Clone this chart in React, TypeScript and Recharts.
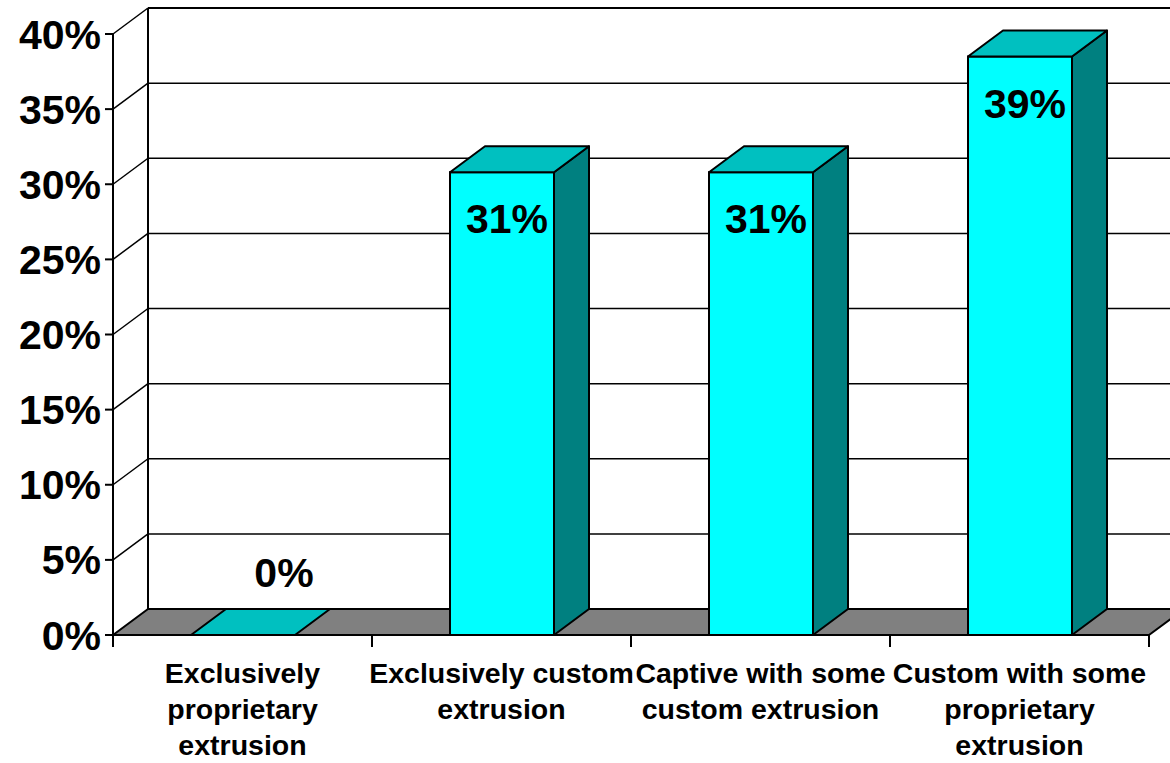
import { BarChart, Bar, XAxis, YAxis, CartesianGrid, LabelList } from 'recharts';

// values (Excel shows them rounded)
const categories = ['Exclusively proprietary extrusion', 'Exclusively custom extrusion', 'Captive with some custom extrusion', 'Custom with some proprietary extrusion'];
const categoryLines = [
    ['Exclusively', 'proprietary', 'extrusion'],
    ['Exclusively custom', 'extrusion'],
    ['Captive with some', 'custom extrusion'],
    ['Custom with some', 'proprietary', 'extrusion'],
];
const shares = [0, 0.308, 0.308, 0.385];
const yTicks = [0, 0.05, 0.1, 0.15, 0.2, 0.25, 0.3, 0.35, 0.4];

const data = categories.map((name, i) => ({ name, share: shares[i], lines: categoryLines[i] }));

const W = 1200;
const H = 763;
const AXIS_W = 113;
const TOP = 34;
const RIGHT = 51;
const X_AXIS_H = 128;
const PLOT_LEFT = AXIS_W;
const PLOT_RIGHT = W - RIGHT;
const PLOT_BOTTOM = H - X_AXIS_H;
const CAT_W = (PLOT_RIGHT - PLOT_LEFT) / categories.length;
const DX = 35; // depth offset
const DY = 26;
const FONT = '"Liberation Sans", Arial, Helvetica, sans-serif';

const pct = (v: number) => `${Math.round(v * 100)}%`;

function GridLine(p: any) {
    const { x1, y1, x2 } = p;
    const isFloor = Math.abs(y1 - PLOT_BOTTOM) < 1;
    if (isFloor) {
        const pts = `${x1},${y1} ${x2},${y1} ${x2 + DX},${y1 - DY} ${x1 + DX},${y1 - DY}`;
        return (
            <g key={p.key}>
                <polygon points={pts} fill="#808080" stroke="#000" strokeWidth={2} strokeLinejoin="round" />
            </g>
        );
    }
    const isTop = Math.abs(y1 - TOP) < 1;
    return (
        <g key={p.key}>
            <line x1={x1} y1={y1} x2={x1 + DX} y2={y1 - DY} stroke="#000" strokeWidth={1.5} />
            <line x1={x1 + DX} y1={y1 - DY} x2={x2 + DX} y2={y1 - DY} stroke="#000" strokeWidth={isTop ? 2 : 1.5} />
            {isTop && <line x1={x1 + DX} y1={y1 - DY} x2={x1 + DX} y2={PLOT_BOTTOM - DY} stroke="#000" strokeWidth={2} />}
        </g>
    );
}

function Box3D(props: any) {
    const { x, y, width, height } = props;
    const top = `${x},${y} ${x + DX},${y - DY} ${x + width + DX},${y - DY} ${x + width},${y}`;
    const side = `${x + width},${y} ${x + width + DX},${y - DY} ${x + width + DX},${y + height - DY} ${x + width},${y + height}`;
    return (
        <g>
            {height > 0 && <polygon points={side} fill="#008080" stroke="#000" strokeWidth={2} strokeLinejoin="round" />}
            {height > 0 && <rect x={x} y={y} width={width} height={height} fill="#00FFFF" stroke="#000" strokeWidth={2} />}
            <polygon points={top} fill="#00C0C0" stroke="#000" strokeWidth={2} strokeLinejoin="round" />
        </g>
    );
}

function ValueLabel(props: any) {
    const { x, y, width, value } = props;
    const zero = !value;
    const cx = x + width / 2 + (zero ? 41 : 5);
    const cy = zero ? y - 62 : y + 47;
    return (
        <text x={cx} y={cy} textAnchor="middle" dominantBaseline="central" fontFamily={FONT} fontWeight="bold" fontSize={41} fill="#000">
            {pct(value)}
        </text>
    );
}

function CategoryTick(props: any) {
    const { x, y, index, payload } = props;
    const row = data.find((d) => d.name === payload.value);
    const lines = row ? row.lines : [payload.value];
    const left = x - CAT_W / 2;
    return (
        <g>
            <line x1={left} y1={y} x2={left} y2={y + 12} stroke="#000" strokeWidth={2} />
            {index === categories.length - 1 && <line x1={x + CAT_W / 2} y1={y} x2={x + CAT_W / 2} y2={y + 12} stroke="#000" strokeWidth={2} />}
            <text textAnchor="middle" fontFamily={FONT} fontWeight="bold" fontSize={28.5} fill="#000">
                {lines.map((l: string, i: number) => (
                    <tspan key={i} x={x} y={y + 48 + i * 36}>{l}</tspan>
                ))}
            </text>
        </g>
    );
}

export default function App() {
    return (
        <div style={{ position: 'fixed', left: 0, top: 0, width: 1170, height: 763, overflow: 'hidden', background: '#fff' }}>
            <BarChart width={W} height={H} data={data} margin={{ top: TOP, right: RIGHT, bottom: 0, left: 0 }}>
                <CartesianGrid horizontal={GridLine} vertical={false} />
                <XAxis
                    dataKey="name"
                    height={X_AXIS_H}
                    interval={0}
                    tickSize={0}
                    tickMargin={0}
                    axisLine={{ stroke: '#000', strokeWidth: 2 }}
                    tick={CategoryTick}
                />
                <YAxis
                    width={AXIS_W}
                    domain={[0, 0.4]}
                    ticks={yTicks}
                    interval={0}
                    tickFormatter={pct}
                    tickSize={8}
                    tickMargin={4}
                    axisLine={{ stroke: '#000', strokeWidth: 2 }}
                    tickLine={{ stroke: '#000', strokeWidth: 2 }}
                    tick={{ fill: '#000', fontSize: 41, fontWeight: 'bold', fontFamily: FONT }}
                />
                <Bar dataKey="share" barSize={104} shape={Box3D} isAnimationActive={false}>
                    <LabelList dataKey="share" content={ValueLabel} />
                </Bar>
            </BarChart>
        </div>
    );
}
